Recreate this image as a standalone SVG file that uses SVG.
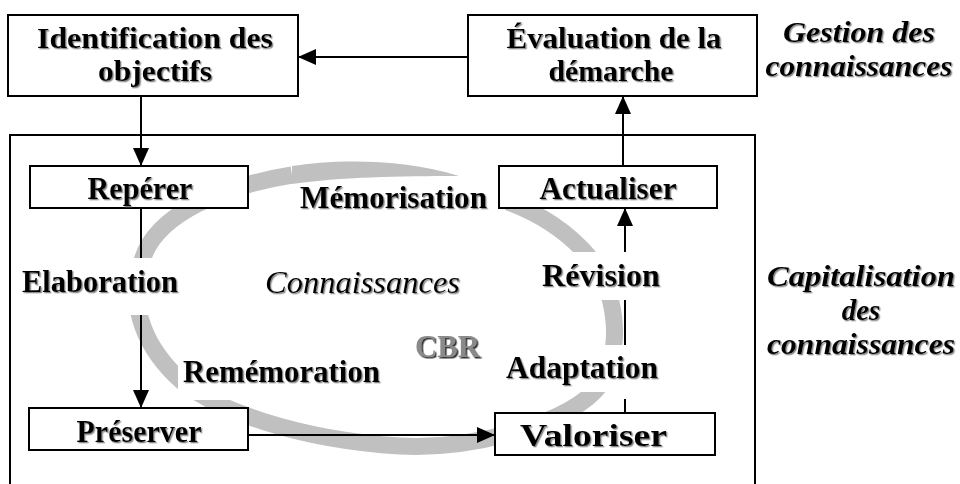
<svg xmlns="http://www.w3.org/2000/svg" width="960" height="484" viewBox="0 0 960 484">
<style>
  .box { fill: #ffffff; stroke: #000000; stroke-width: 2; }
  .frame { fill: none; stroke: #000000; stroke-width: 2; }
  .bg { fill: #ffffff; stroke: none; }
  .t { font-family: "Liberation Serif", "Times New Roman", serif; font-size: 31px; font-weight: bold; fill: #000000; filter: url(#shadow); }
  .top { font-size: 29px; }
  .side { font-size: 29px; }
  .c { text-anchor: middle; }
  .bi { font-style: italic; }
  .i { font-style: italic; font-weight: normal; }
  .cbr { fill: #8a8a8a; filter: url(#emboss); }
  .conn { fill: none; stroke: #000000; stroke-width: 2; }
  .ring { fill: none; stroke: #c0c0c0; stroke-width: 17; }
</style>
<defs>
  <filter id="shadow" x="-5%" y="-20%" width="115%" height="150%">
    <feDropShadow dx="1.3" dy="1.3" stdDeviation="0.7" flood-color="#7a7a7a" flood-opacity="0.9"/>
  </filter>
  <filter id="emboss" x="-5%" y="-20%" width="115%" height="150%">
    <feDropShadow dx="1.5" dy="1.5" stdDeviation="0.3" flood-color="#333333" flood-opacity="1"/>
  </filter>
  <marker id="arrow" markerUnits="userSpaceOnUse" markerWidth="19" markerHeight="17" refX="18" refY="8" orient="auto">
    <path d="M0,0 L18,8 L0,16 Z" fill="#000000"/>
  </marker>
</defs>
<rect width="960" height="484" fill="#ffffff"/>

<!-- container: Capitalisation des connaissances -->
<g id="capitalisation-frame">
  <rect class="frame" x="10" y="135" width="745" height="370"/>
</g>

<!-- grey CBR cycle ring -->
<g id="cbr-cycle">
  <path class="ring" d="M 292 175 C 230 185, 152 212, 141 265 C 130 300, 140 340, 175 375 C 210 410, 300 440, 400 446 C 480 450, 575 420, 600 385 C 625 345, 615 290, 590 258 C 565 228, 535 212, 508 202"/>
  <path d="M 292 166 C 330 160, 400 157, 459 176 C 400 176, 340 177, 292 184 Z" fill="#c0c0c0"/>
</g>

<!-- connectors -->
<g id="connectors">
  <path class="conn" d="M 468 57 L 298 57" marker-end="url(#arrow)"/>
  <path class="conn" d="M 141 96 L 141 166" marker-end="url(#arrow)"/>
  <path class="conn" d="M 141 208 L 141 258"/>
  <path class="conn" d="M 141 315 L 141 408" marker-end="url(#arrow)"/>
  <path class="conn" d="M 248 435 L 495 435" marker-end="url(#arrow)"/>
  <path class="conn" d="M 625 413 L 625 399"/>
  <path class="conn" d="M 625 345 L 625 300"/>
  <path class="conn" d="M 625 252 L 625 208" marker-end="url(#arrow)"/>
  <path class="conn" d="M 623 166 L 623 96" marker-end="url(#arrow)"/>
</g>

<!-- nodes -->
<g id="identification">
  <rect class="box" x="8" y="15" width="290" height="81"/>
  <text class="t top c" x="155" y="48" textLength="236" lengthAdjust="spacingAndGlyphs">Identification des</text>
  <text class="t top c" x="155" y="81" textLength="114" lengthAdjust="spacingAndGlyphs">objectifs</text>
</g>
<g id="evaluation">
  <rect class="box" x="468" y="15" width="289" height="81"/>
  <text class="t top c" x="614" y="48" textLength="215" lengthAdjust="spacingAndGlyphs">Évaluation de la</text>
  <text class="t top c" x="611" y="81" textLength="125" lengthAdjust="spacingAndGlyphs">démarche</text>
</g>
<g id="reperer">
  <rect class="box" x="30" y="166" width="218" height="42"/>
  <text class="t c" x="140" y="199" textLength="105" lengthAdjust="spacingAndGlyphs">Repérer</text>
</g>
<g id="actualiser">
  <rect class="box" x="499" y="166" width="218" height="42"/>
  <text class="t c" x="608" y="199" textLength="137" lengthAdjust="spacingAndGlyphs">Actualiser</text>
</g>
<g id="preserver">
  <rect class="box" x="29" y="408" width="219" height="42"/>
  <text class="t c" x="139" y="442" textLength="125" lengthAdjust="spacingAndGlyphs">Préserver</text>
</g>
<g id="valoriser">
  <rect class="box" x="495" y="413" width="220" height="42"/>
  <text class="t" x="520" y="446" textLength="147" lengthAdjust="spacingAndGlyphs">Valoriser</text>
</g>

<!-- phase labels -->
<g id="label-memorisation">
  <text class="t" x="300" y="208" textLength="187" lengthAdjust="spacingAndGlyphs">Mémorisation</text>
</g>
<g id="label-elaboration">
  <rect class="bg" x="14" y="258" width="170" height="57"/>
  <text class="t" x="22" y="292" textLength="156" lengthAdjust="spacingAndGlyphs">Elaboration</text>
</g>
<g id="label-connaissances">
  <text class="t i" x="265" y="293" textLength="195" lengthAdjust="spacingAndGlyphs">Connaissances</text>
</g>
<g id="label-revision">
  <rect class="bg" x="538" y="252" width="128" height="48"/>
  <text class="t" x="542" y="286" textLength="118" lengthAdjust="spacingAndGlyphs">Révision</text>
</g>
<g id="label-cbr">
  <text class="t cbr" x="415" y="357" textLength="65" lengthAdjust="spacingAndGlyphs">CBR</text>
</g>
<g id="label-rememoration">
  <rect class="bg" x="178" y="358" width="212" height="42"/>
  <text class="t" x="183" y="382" textLength="197" lengthAdjust="spacingAndGlyphs">Remémoration</text>
</g>
<g id="label-adaptation">
  <rect class="bg" x="502" y="345" width="160" height="47"/>
  <text class="t" x="506" y="378" textLength="152" lengthAdjust="spacingAndGlyphs">Adaptation</text>
</g>

<!-- side titles -->
<g id="title-gestion">
  <text class="t side bi c" x="859" y="42" textLength="152" lengthAdjust="spacingAndGlyphs">Gestion des</text>
  <text class="t side bi c" x="859" y="76" textLength="187" lengthAdjust="spacingAndGlyphs">connaissances</text>
</g>
<g id="title-capitalisation">
  <text class="t side bi c" x="861" y="286" textLength="188" lengthAdjust="spacingAndGlyphs">Capitalisation</text>
  <text class="t side bi c" x="861" y="320">des</text>
  <text class="t side bi c" x="861" y="354" textLength="188" lengthAdjust="spacingAndGlyphs">connaissances</text>
</g>
</svg>
